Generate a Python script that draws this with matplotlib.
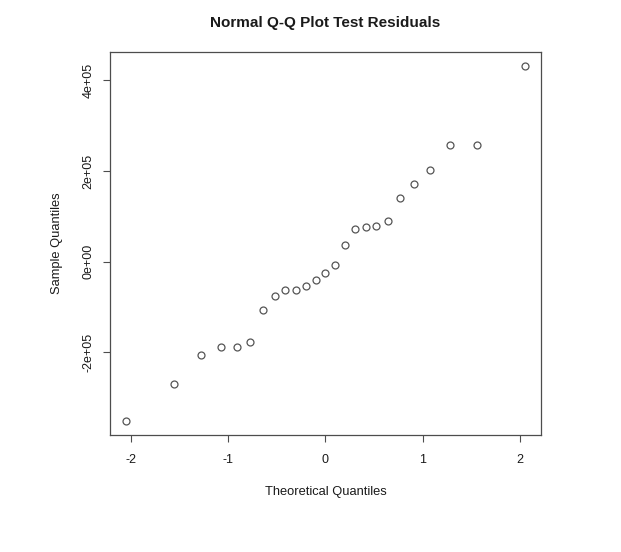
"""Normal Q-Q plot of test residuals, drawn in the style of base R graphics."""

import matplotlib

matplotlib.use("Agg")
import matplotlib.pyplot as plt

# theoretical normal quantiles for n = 25 (qnorm((i - 0.5) / 25))
theoretical = [
    -2.054, -1.555, -1.282, -1.080, -0.915, -0.772, -0.643, -0.524, -0.412,
    -0.305, -0.202, -0.100, 0.000, 0.100, 0.202, 0.305, 0.412, 0.524,
    0.643, 0.772, 0.915, 1.080, 1.282, 1.555, 2.054,
]
# sorted residuals
sample = [
    -351500, -270500, -206600, -189000, -187500, -178000, -108000, -76500,
    -63200, -63200, -52900, -41200, -25000, -6600, 36800, 72000, 76500,
    79400, 89700, 141100, 170500, 202100, 256500, 258000, 430700,
]
x_ticks = [-2, -1, 0, 1, 2]
y_ticks = [-200000, 0, 200000, 400000]
y_tick_labels = ["-2e+05", "0e+00", "2e+05", "4e+05"]

plt.rcParams["font.family"] = ["Liberation Sans", "DejaVu Sans"]
edge = "#4d4d4d"
text_color = "#1a1a1a"

fig = plt.figure(figsize=(6.21, 5.52), dpi=100)
axis = fig.add_axes([0.1771, 0.212, 0.6941, 0.6933])
axis.plot(
    theoretical,
    sample,
    linestyle="none",
    marker="o",
    markersize=5,
    markerfacecolor="none",
    markeredgecolor="#555555",
    markeredgewidth=0.9,
)

# R pads each axis by 4% of the data range
span_x = max(theoretical) - min(theoretical)
span_y = max(sample) - min(sample)
axis.set_xlim(min(theoretical) - 0.04 * span_x, max(theoretical) + 0.04 * span_x)
axis.set_ylim(min(sample) - 0.04 * span_y, max(sample) + 0.04 * span_y)

axis.set_xticks(x_ticks)
axis.set_xticklabels([str(t) for t in x_ticks])
axis.set_yticks(y_ticks)
axis.set_yticklabels(y_tick_labels, rotation=90, va="center")
axis.tick_params(
    direction="out", length=5, width=0.8, color=edge, labelsize=9,
    labelcolor=text_color, pad=9,
)
axis.tick_params(axis="y", pad=6)
for spine in axis.spines.values():
    spine.set_color(edge)
    spine.set_linewidth(0.9)

axis.set_xlabel("Theoretical Quantiles", fontsize=9.3, color=text_color, labelpad=14)
axis.set_ylabel("Sample Quantiles", fontsize=9.3, color=text_color, labelpad=14)
axis.set_title(
    "Normal Q-Q Plot Test Residuals", fontsize=11, fontweight="bold",
    color=text_color, pad=18,
)

fig.savefig("out.png", dpi=100)
